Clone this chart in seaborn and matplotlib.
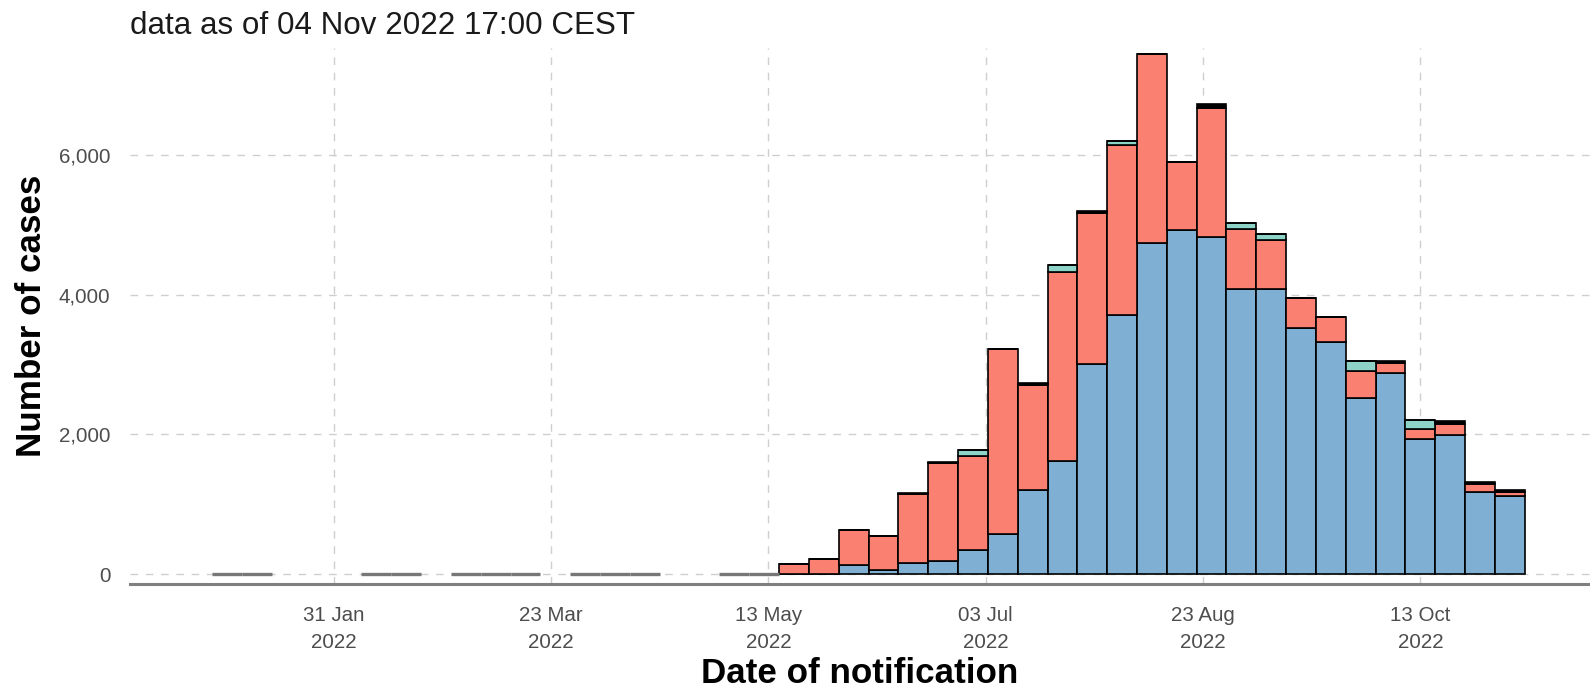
import numpy as np
import pandas as pd
import matplotlib
matplotlib.use("Agg")
import matplotlib.pyplot as plt
import matplotlib.dates as mdates
import seaborn as sns

# ---------------- data ----------------
week_start = pd.date_range("2022-05-16", periods=25, freq="7D")
blue = [0, 0, 129, 55, 152, 181, 343, 571, 1200, 1619, 3000, 3714, 4738,
        4929, 4824, 4086, 4086, 3524, 3319, 2524, 2871, 1938, 1990, 1181, 1119]
salmon = [143, 214, 500, 493, 991, 1409, 1348, 2643, 1510, 2700, 2170, 2429, 2705,
          976, 1843, 850, 690, 424, 362, 381, 150, 133, 153, 105, 48]
teal = [0, 0, 0, 0, 0, 0, 85, 0, 0, 110, 0, 57, 0,
        0, 0, 88, 91, 0, 0, 143, 0, 134, 0, 0, 0]
black = [0, 0, 0, 0, 15, 15, 0, 0, 28, 0, 30, 0, 0,
         0, 62, 0, 0, 0, 0, 0, 27, 0, 43, 33, 38]
zero_weeks = ["2022-01-03", "2022-01-10", "2022-02-07", "2022-02-14", "2022-02-28",
              "2022-03-07", "2022-03-14", "2022-03-28", "2022-04-04", "2022-04-11",
              "2022-05-02", "2022-05-09"]
tick_dates = ["2022-01-31", "2022-03-23", "2022-05-13", "2022-07-03",
              "2022-08-23", "2022-10-13"]

categories = ["cat_black", "cat_teal", "cat_salmon", "cat_blue"]  # top -> bottom
colors = {"cat_blue": "#7FB0D3", "cat_salmon": "#FA8072",
          "cat_teal": "#8DD3C7", "cat_black": "#000000"}

# ---------------- build frame ----------------
centers = mdates.date2num(week_start + pd.Timedelta(days=3))
edges = [float(c - 3.5) for c in centers] + [float(centers[-1] + 3.5)]
rows = []
for cat, vals in zip(["cat_blue", "cat_salmon", "cat_teal", "cat_black"],
                     [blue, salmon, teal, black]):
    for c, v in zip(centers, vals):
        rows.append({"x": float(c), "cat": cat, "cases": v})
df = pd.DataFrame(rows)

# ---------------- style ----------------
sns.set_theme(style="white")
plt.rcParams["font.family"] = ["Liberation Sans", "DejaVu Sans"]

W, H = 1590, 691
fig = plt.figure(figsize=(W / 100, H / 100), dpi=100)
ax = fig.add_axes([130 / W, (H - 584) / H, (1590 - 130) / W, (584 - 48) / H])

sns.histplot(data=df, x="x", weights="cases", hue="cat", hue_order=categories,
             palette=colors, multiple="stack", bins=edges, alpha=1,
             edgecolor="black", linewidth=1.2, legend=False, ax=ax, zorder=3)

# weeks with zero notifications
zc = mdates.date2num(pd.to_datetime(zero_weeks) + pd.Timedelta(days=3))
ax.bar(zc, np.zeros(len(zc)), width=7, bottom=0, color="none",
       edgecolor="#777777", linewidth=2.4, zorder=3)

# axes limits
ref = mdates.date2num(pd.Timestamp("2022-05-13"))
ax.set_xlim(ref - 149.8, ref + 192.8)
ax.set_ylim(-143, 7530)

# ticks
ax.set_xticks(mdates.date2num(pd.to_datetime(tick_dates)))
ax.set_xticklabels([pd.Timestamp(d).strftime("%d %b\n%Y") for d in tick_dates],
                   linespacing=1.5)
ax.set_yticks([0, 2000, 4000, 6000])
ax.set_yticklabels(["0", "2,000", "4,000", "6,000"])
ax.tick_params(axis="both", which="major", labelsize=14.8, labelcolor="#4D4D4D",
               color="#9A9A9A", width=1.0, length=4, direction="out")
ax.tick_params(axis="x", pad=12)
ax.tick_params(axis="y", pad=10)

# grid
ax.grid(True, which="major", color="#CFCFCF", linestyle=(0, (5.5, 5.5)),
        linewidth=1.0, zorder=0)
ax.set_axisbelow(True)

# spines
for s in ["top", "right", "left"]:
    ax.spines[s].set_visible(False)
ax.spines["bottom"].set_color("#808080")
ax.spines["bottom"].set_linewidth(2.2)

# labels
ax.set_xlabel("Date of notification", fontsize=25.2, fontweight="bold",
              color="#000000", labelpad=4)
ax.set_ylabel("Number of cases", fontsize=25.2, fontweight="bold",
              color="#000000", labelpad=8)
fig.text(130 / W, 1 - 26 / H, "data as of 04 Nov 2022 17:00 CEST",
         fontsize=22.6, ha="left", va="center", color="#1A1A1A")

fig.savefig("out.png", dpi=100)
